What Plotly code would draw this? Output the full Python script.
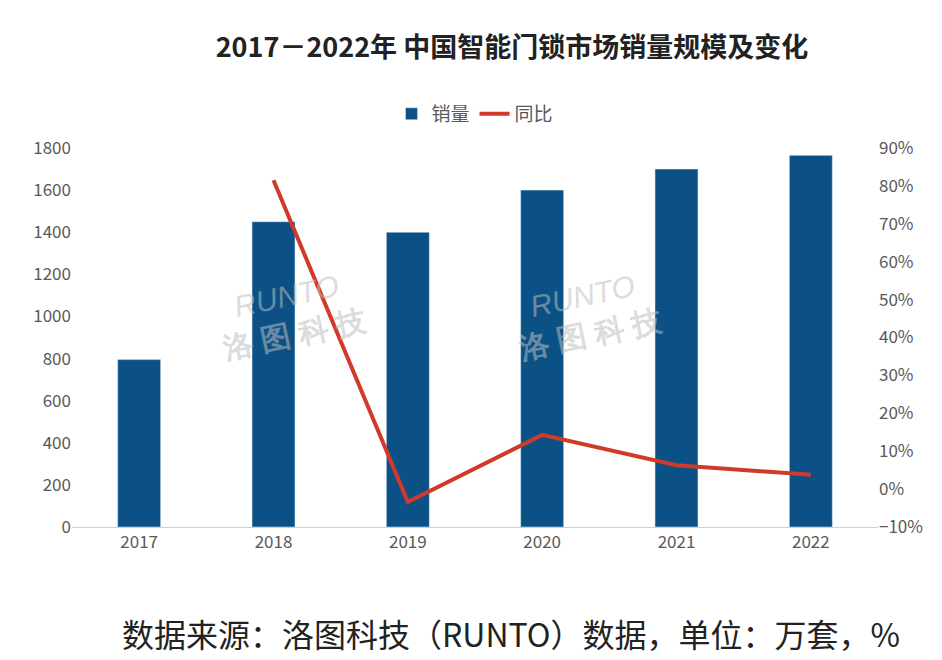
import plotly.graph_objects as go

years = ["2017", "2018", "2019", "2020", "2021", "2022"]
sales = [795, 1450, 1400, 1600, 1700, 1765]
yoy_years = ["2018", "2019", "2020", "2021", "2022"]
yoy = [81.5, -3.4, 14.3, 6.3, 3.8]

font = "Noto Sans CJK SC"
fig = go.Figure()
fig.add_trace(go.Bar(x=years, y=sales, name="销量", marker_color="#0b5185", width=0.32))
fig.add_trace(go.Scatter(x=yoy_years, y=yoy, name="同比", mode="lines",
                         line=dict(color="#d13a2a", width=4), yaxis="y2"))

for xp in [0.17, 0.74]:
    fig.add_annotation(xref="paper", yref="paper", x=xp, y=0.56, showarrow=False,
                       text="<i>RUNTO</i><br><b>洛 图 科 技</b>", textangle=-12,
                       font=dict(size=30, color="rgba(190,190,190,0.55)", family="Liberation Sans"))

fig.update_layout(
    width=942, height=660,
    margin=dict(l=64, r=72, t=140, b=141),
    paper_bgcolor="white", plot_bgcolor="white",
    font=dict(family=font, color="#595959", size=16),
    title=dict(text="<b>2017－2022年 中国智能门锁市场销量规模及变化</b>", x=0.535, y=0.955,
               xanchor="center", font=dict(size=27, color="#222")),
    legend=dict(orientation="h", x=0.5, xanchor="center", y=1.09, yanchor="middle",
                font=dict(size=19)),
    bargap=0.7,
    xaxis=dict(showline=True, linecolor="#d0d0d0", ticks="", tickfont=dict(size=17)),
    yaxis=dict(range=[0, 1800], dtick=200, showgrid=False, zeroline=False,
               tickfont=dict(size=17)),
    yaxis2=dict(range=[-10, 90], dtick=10, overlaying="y", side="right", showgrid=False,
                zeroline=False, ticksuffix="%", tickfont=dict(size=17)),
    annotations=list(fig.layout.annotations) + [
        dict(xref="paper", yref="paper", x=0.545, y=-0.345, showarrow=False,
             text="数据来源：洛图科技（RUNTO）数据，单位：万套，%",
             font=dict(size=32, color="#222"))
    ],
)
fig.write_html("out.html")
